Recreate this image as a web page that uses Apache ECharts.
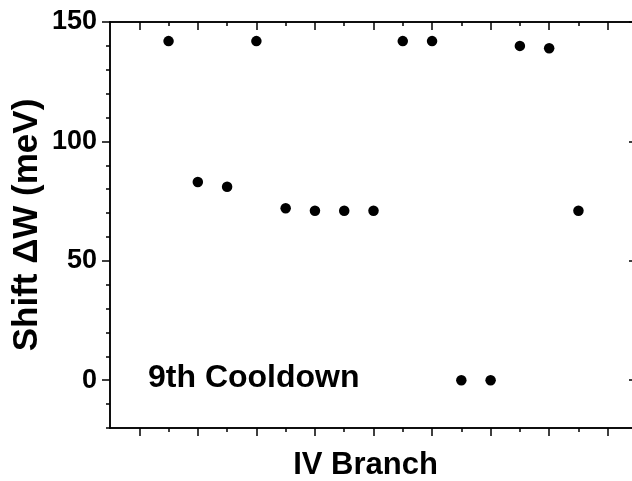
<!DOCTYPE html>
<html>
<head>
<meta charset="utf-8">
<script src="https://cdn.jsdelivr.net/npm/echarts@6/dist/echarts.min.js"></script>
<style>
html,body{margin:0;padding:0;background:#fff;}
#chart{width:632px;height:481px;}
</style>
</head>
<body>
<div id="chart"></div>
<script>
const branchIndex = [2,3,4,5,6,7,8,9,10,11,12,13,14,15,16];
const shiftValues = [142,83,81,142,72,71,71,71,142,142,0,0,140,139,71];
const yLabelValues = [0,50,100,150];
const yMinorValues = [-20,-10,0,10,20,30,40,50,60,70,80,90,100,110,120,130,140,150];
const xMajorValues = [1,3,5,7,9,11,13,15,17];
const xMinorValues = [2,4,6,8,10,12,14,16];
const yAxisTitle = 'Shift \u0394W (meV)';
const xAxisTitle = 'IV Branch';
const annotation = '9th Cooldown';

const FONT = 'Liberation Sans, Arial, sans-serif';
const chart = echarts.init(document.getElementById('chart'), null, {renderer:'canvas'});
const line = {show:true, onZero:false, lineStyle:{color:'#000', width:1.5}};
function xAx(pos, vals, len, inside){
  return {type:'value', min:0, max:18, position:pos, axisLine:line,
    axisTick:{show:true, customValues:vals, length:len, inside:inside, lineStyle:{color:'#000', width:1.5}},
    axisLabel:{show:false}, splitLine:{show:false}};
}
function yAx(pos, vals, len, inside, labels){
  return {type:'value', min:-20, max:150, position:pos, axisLine:line,
    axisTick:{show:true, customValues:vals, length:len, inside:inside, lineStyle:{color:'#000', width:1.5}},
    axisLabel: labels ? {show:true, customValues:yLabelValues, fontFamily:FONT, fontWeight:'bold', fontSize:27, color:'#000', margin:13} : {show:false},
    splitLine:{show:false}};
}
const xAxes = [
  xAx('bottom', xMajorValues, 8, false),
  xAx('bottom', xMinorValues, 4, false),
  xAx('top', xMajorValues, 8, true),
  xAx('top', xMinorValues, 4, true)
];
xAxes[0].name = xAxisTitle;
xAxes[0].nameLocation = 'middle';
xAxes[0].nameGap = 22;
xAxes[0].nameTextStyle = {fontFamily:FONT, fontWeight:'bold', fontSize:31, color:'#000', verticalAlign:'top', padding:[0,16,0,0]};
const yAxes = [
  yAx('left', yLabelValues, 8, false, true),
  yAx('left', yMinorValues, 4, false, false),
  yAx('right', yLabelValues, 8, true, false)
];
yAxes[0].name = yAxisTitle;
yAxes[0].nameLocation = 'middle';
yAxes[0].nameGap = 65;
yAxes[0].nameMoveOverlap = false;
yAxes[0].nameTextStyle = {fontFamily:FONT, fontWeight:'bold', fontSize:35, color:'#000'};

chart.setOption({
  animation:false,
  backgroundColor:'#fff',
  grid:{left:110, top:22, width:527, height:406, containLabel:false, outerBoundsMode:'none'},
  xAxis:xAxes,
  yAxis:yAxes,
  series:[{
    type:'scatter', xAxisIndex:0, yAxisIndex:0,
    symbol:'circle', symbolSize:10.5,
    itemStyle:{color:'#000', opacity:1},
    data: branchIndex.map((x,i)=>[x, shiftValues[i]])
  }],
  graphic:[{
    type:'text', left:148, top:362,
    style:{text:annotation, font:'bold 32px ' + FONT, fill:'#000'}
  }]
});
</script>
</body>
</html>
